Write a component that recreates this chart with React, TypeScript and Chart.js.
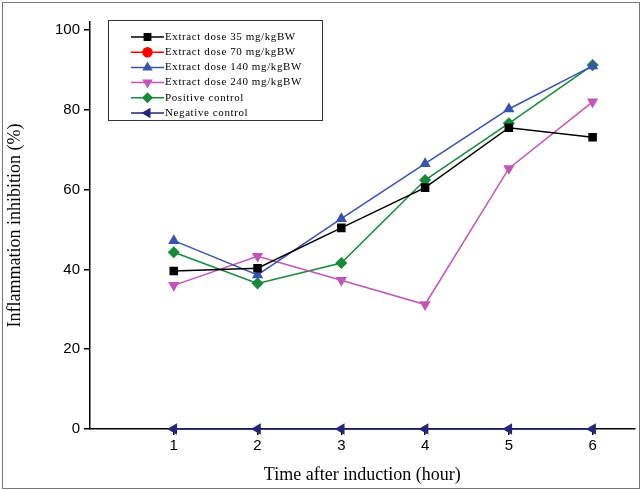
import { useEffect, useRef } from 'react';
import { Chart, registerables, Plugin } from 'chart.js';
import { drawPoint } from 'chart.js/helpers';

Chart.register(...registerables);

const hours = [1, 2, 3, 4, 5, 6];
const dose35 = [39.6, 40.3, 50.4, 60.5, 75.5, 73.1];
const dose70: number[] = [];
const dose140 = [47.2, 38.6, 52.7, 66.5, 80.2, 91.0];
const dose240 = [36.0, 43.3, 37.3, 31.2, 65.3, 82.0];
const positive = [44.3, 36.5, 41.6, 62.4, 76.6, 91.2];
const negative = [0, 0, 0, 0, 0, 0];
const yTicks = [0, 20, 40, 60, 80, 100];

const series = [
  { label: 'Extract dose 35 mg/kgBW', data: dose35, color: '#000000', style: 'rect', rot: 0 },
  { label: 'Extract dose 70 mg/kgBW', data: dose70, color: '#ff0000', style: 'circle', rot: 0 },
  { label: 'Extract dose 140 mg/kgBW', data: dose140, color: '#3a53b0', style: 'triangle', rot: 0 },
  { label: 'Extract dose 240 mg/kgBW', data: dose240, color: '#c455b8', style: 'triangle', rot: 180 },
  { label: 'Positive control', data: positive, color: '#178a3a', style: 'rectRot', rot: 0 },
  { label: 'Negative control', data: negative, color: '#25257a', style: 'triangle', rot: -90 },
];

const legendPlugin: Plugin<'line'> = {
  id: 'boxLegend',
  afterDraw(chart) {
    const ctx = chart.ctx;
    ctx.save();
    ctx.strokeStyle = '#333';
    ctx.lineWidth = 1;
    ctx.strokeRect(108.5, 20.5, 214, 100);
    ctx.font = '11px "Liberation Serif", serif';
    (ctx as any).letterSpacing = '0.6px';
    ctx.textBaseline = 'middle';
    series.forEach((s, i) => {
      const y = 37 + i * 15.2;
      ctx.strokeStyle = s.color;
      ctx.lineWidth = 1.5;
      ctx.beginPath();
      ctx.moveTo(131, y);
      ctx.lineTo(164, y);
      ctx.stroke();
      ctx.fillStyle = s.color;
      drawPoint(ctx, { pointStyle: s.style as any, radius: 4.5, rotation: s.rot, borderWidth: 1 }, 147.5, y);
      ctx.fillStyle = '#000';
      ctx.fillText(s.label, 165, y);
    });
    ctx.restore();
  },
};

export default function App() {
  const ref = useRef<HTMLCanvasElement>(null);
  useEffect(() => {
    document.body.style.margin = '0';
    if (!ref.current) return;
    const chart = new Chart(ref.current, {
      type: 'line',
      data: {
        datasets: series.map(s => ({
          label: s.label,
          data: s.data.map((v, i) => ({ x: hours[i], y: v })),
          borderColor: s.color,
          backgroundColor: s.color,
          pointStyle: s.style as any,
          rotation: s.rot,
          pointRadius: 5,
          borderWidth: 1.5,
          clip: false as any,
        })),
      },
      options: {
        animation: false,
        responsive: false,
        layout: { padding: { top: 22, right: 4, left: 0, bottom: 0 } },
        plugins: { legend: { display: false }, tooltip: { enabled: false } },
        scales: {
          x: {
            type: 'linear', min: 0, max: 6.5,
            afterBuildTicks: (s: any) => { s.ticks = hours.map(v => ({ value: v })); },
            afterFit: (s: any) => { s.height = 61; },
            grid: { drawOnChartArea: false, tickLength: 6, color: '#000', lineWidth: 1.5 },
            border: { color: '#000', width: 1.5 },
            ticks: { color: '#000', font: { family: 'Liberation Sans', size: 15 }, padding: 2 },
            title: { display: true, text: 'Time after induction (hour)', color: '#000', font: { family: 'Liberation Serif', size: 18 }, padding: { top: 1 } },
          },
          y: {
            min: 0, max: 102,
            afterBuildTicks: (s: any) => { s.ticks = yTicks.map(v => ({ value: v })); },
            afterFit: (s: any) => { s.width = 90; },
            grid: { drawOnChartArea: false, tickLength: 6, color: '#000', lineWidth: 1.5 },
            border: { color: '#000', width: 1.5 },
            ticks: { color: '#000', font: { family: 'Liberation Sans', size: 15 }, padding: 4 },
            title: { display: true, text: 'Inflammation inhibition (%)', color: '#000', font: { family: 'Liberation Serif', size: 18 } },
          },
        },
      },
      plugins: [legendPlugin],
    });
    return () => chart.destroy();
  }, []);
  return (
    <div style={{ width: 641, height: 490, position: 'relative', boxSizing: 'border-box' }}>
      <canvas ref={ref} width={641} height={490} style={{ position: 'absolute', left: 0, top: 0 }} />
      <div style={{ position: 'absolute', left: 2, top: 2, width: 636, height: 485, border: '1px solid #777', pointerEvents: 'none' }} />
    </div>
  );
}
